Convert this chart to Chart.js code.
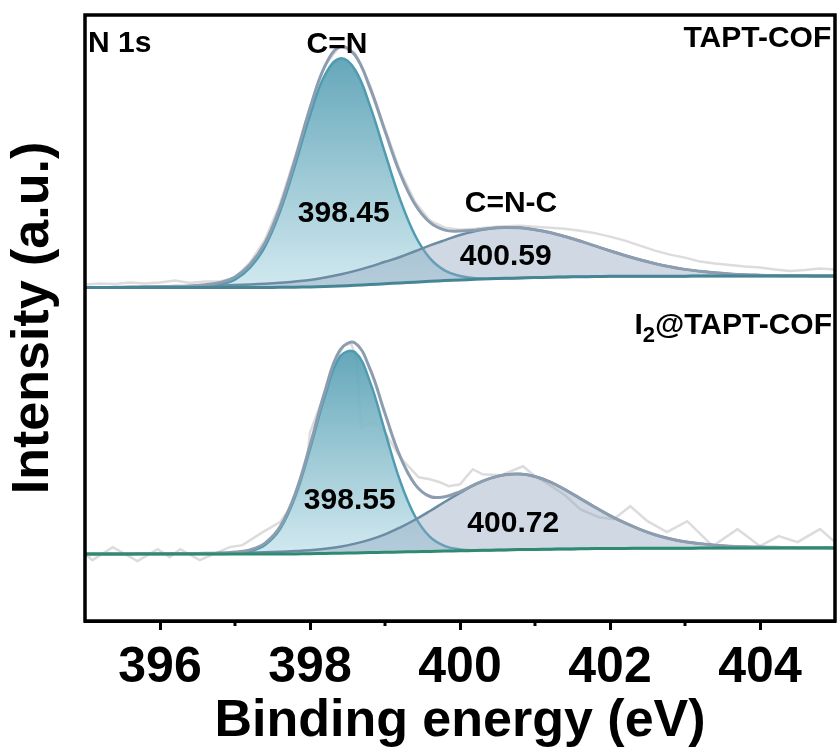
<!DOCTYPE html>
<html>
<head>
<meta charset="utf-8">
<script src="https://cdn.jsdelivr.net/npm/chart.js@4.4.1/dist/chart.umd.min.js"></script>
<style>
  html, body { margin: 0; padding: 0; background: #fff; }
  #wrap { width: 838px; height: 751px; }
</style>
</head>
<body>
<div id="wrap"><canvas id="xps"></canvas></div>
<script>
// binding energy grid (eV)
const energy = [395, 395.2, 395.4, 395.6, 395.8, 396, 396.2, 396.4, 396.6, 396.8,
  397, 397.2, 397.4, 397.6, 397.8, 398, 398.2, 398.4, 398.6, 398.8,
  399, 399.2, 399.4, 399.6, 399.8, 400, 400.2, 400.4, 400.6, 400.8,
  401, 401.2, 401.4, 401.6, 401.8, 402, 402.2, 402.4, 402.6, 402.8,
  403, 403.2, 403.4, 403.6, 403.8, 404, 404.2, 404.4, 404.6, 404.8, 405];

// TAPT-COF (upper spectrum)
const rawTop = [333, 334, 333.5, 335, 334, 335, 337, 334.5, 336, 336,
  340, 355, 378, 414, 461, 511, 553, 572, 565, 533,
  489, 447, 416, 397, 390, 388, 389, 390.5, 391.5, 392,
  391, 390, 389, 387, 384.5, 381, 377, 372, 367, 363,
  360, 356, 354, 352.5, 351, 350, 348, 346.5, 347.5, 349, 348];
const envTop = [330, 330, 330.3, 330.5, 330.8, 331, 331.2, 331.5, 332.8, 335,
  340.5, 353, 374.7, 410.7, 458.1, 509.6, 552, 571, 562.7, 530,
  486.8, 444.6, 413.4, 395.2, 387.5, 386.6, 387.4, 389.2, 390.2, 389.8,
  388, 385.1, 381.1, 376.6, 371.7, 366.8, 362.1, 357.8, 354, 350.8,
  348.2, 346.3, 344.8, 343.7, 342.9, 342.4, 342, 341.8, 341.7, 341.6, 341.5];
const cnTop = [330, 330, 330, 330, 330, 330, 330, 330, 331, 333,
  338, 350, 371, 406.2, 452.4, 502.6, 543, 559.5, 548.2, 512,
  464.8, 418.6, 382.4, 359.2, 347, 341.6, 339.2, 338.8, 339.2, 339.6,
  340, 340.3, 340.6, 340.8, 341, 341.2, 341.3, 341.4, 341.4, 341.4,
  341.4, 341.5, 341.5, 341.5, 341.5, 341.5, 341.5, 341.5, 341.5, 341.5, 341.5];
const cncTop = [330, 330, 330.3, 330.5, 330.8, 331, 331.2, 331.5, 331.8, 332,
  332.5, 333, 333.7, 334.7, 336.1, 337.6, 340, 343, 346.7, 351,
  355.8, 360.6, 366.4, 372.2, 377.5, 382.6, 386.4, 389.2, 390.2, 389.8,
  388, 385.1, 381.1, 376.6, 371.7, 366.8, 362.1, 357.8, 354, 350.8,
  348.2, 346.3, 344.8, 343.7, 342.9, 342.4, 342, 341.8, 341.7, 341.6, 341.5];
const bgTop = [330, 330, 330, 330, 330, 330, 330, 330, 330, 330,
  330, 330, 330, 330.2, 330.4, 330.6, 331, 331.5, 332.2, 333,
  333.8, 334.6, 335.4, 336.2, 337, 337.6, 338.2, 338.8, 339.2, 339.6,
  340, 340.3, 340.6, 340.8, 341, 341.2, 341.3, 341.4, 341.4, 341.4,
  341.4, 341.5, 341.5, 341.5, 341.5, 341.5, 341.5, 341.5, 341.5, 341.5, 341.5];

// I2@TAPT-COF (lower spectrum)
const rawLowX = [395, 395.1, 395.37, 395.7, 395.97, 396.13, 396.27, 396.53, 396.93, 397.1,
  397.37, 397.6, 397.82, 397.95, 398, 398.15, 398.3, 398.45, 398.55, 398.62,
  398.68, 398.85, 399, 399.2, 399.45, 399.6, 399.73, 399.85, 400, 400.17,
  400.3, 400.55, 400.84, 401, 401.2, 401.4, 401.6, 401.85, 402.05, 402.27,
  402.5, 402.76, 403.03, 403.37, 403.7, 404, 404.25, 404.5, 404.8, 405];
const rawLowY = [63, 57, 70, 56, 68, 60, 68, 57, 70, 72,
  85, 95, 118, 150, 185, 215, 250, 272, 274, 258,
  190, 195, 185, 160, 140, 138, 135, 131, 133, 148,
  143, 142, 151, 141, 132, 122, 108, 100, 98, 111,
  96, 85, 96, 71, 88, 71, 81, 75, 88, 75];
const envLow = [63, 63.1, 63.1, 63.2, 63.3, 63.3, 63.5, 63.6, 63.8, 64.1,
  65, 67.3, 74, 90.3, 123, 171.9, 226.3, 267.4, 274.5, 248.5,
  203.8, 161.1, 132.9, 120.7, 120.5, 125.7, 132.9, 138.9, 142.6, 143.2,
  140.7, 135.4, 127.6, 118.8, 110, 101.6, 94.2, 87.8, 82.4, 78.4,
  75.4, 73.5, 72, 71, 70.4, 70, 69.8, 69.6, 69.4, 69.3, 69.2];
const cnLow = [63, 63, 63, 63, 63, 63, 63, 63, 63, 63.1,
  63.7, 65.8, 72.2, 88.1, 120.2, 168.4, 221.6, 260.9, 265.2, 235.5,
  185.8, 136.6, 100.9, 80.2, 71, 67.7, 66.9, 66.9, 67.2, 67.5,
  67.7, 67.9, 68.1, 68.3, 68.5, 68.6, 68.7, 68.8, 68.9, 68.9,
  68.9, 69, 69, 69, 69, 69, 69, 69, 69, 69, 69];
const cncLow = [63, 63.1, 63.1, 63.2, 63.3, 63.3, 63.5, 63.6, 63.8, 64,
  64.3, 64.5, 64.8, 65.3, 66, 66.9, 68.3, 70.4, 73.5, 77.5,
  82.8, 89.6, 97.4, 106.2, 115.5, 124.3, 132.6, 138.9, 142.6, 143.2,
  140.7, 135.4, 127.6, 118.8, 110, 101.6, 94.2, 87.8, 82.4, 78.4,
  75.4, 73.5, 72, 71, 70.4, 70, 69.8, 69.6, 69.4, 69.3, 69.2];
const bgLow = [63, 63, 63, 63, 63, 63, 63, 63, 63, 63,
  63, 63, 63, 63.1, 63.2, 63.4, 63.6, 63.9, 64.2, 64.5,
  64.8, 65.1, 65.4, 65.7, 66, 66.3, 66.6, 66.9, 67.2, 67.5,
  67.7, 67.9, 68.1, 68.3, 68.5, 68.6, 68.7, 68.8, 68.9, 68.9,
  68.9, 69, 69, 69, 69, 69, 69, 69, 69, 69, 69];

const xTicks = [396, 398, 400, 402, 404];
const minorTicks = [397, 399, 401, 403];

// text labels, placed in data units (eV, intensity at text baseline)
const notes = [
  { text: 'N 1s', x: 395.04, y: 566, align: 'left' },
  { text: 'C=N', x: 398.36, y: 565, align: 'center' },
  { text: 'TAPT-COF', x: 404.95, y: 571, align: 'right' },
  { text: '398.45', x: 398.45, y: 396, align: 'center' },
  { text: 'C=N-C', x: 400.68, y: 406, align: 'center' },
  { text: '400.59', x: 400.61, y: 353, align: 'center' },
  { text: '398.55', x: 398.53, y: 108, align: 'center' },
  { text: '400.72', x: 400.71, y: 85, align: 'center' }
];
const lowName = { main: 'I', sub: '2', rest: '@TAPT-COF', x: 404.96, y: 283 };

const FONT = '"Liberation Sans", Arial, sans-serif';

function pts(xs, ys) {
  return xs.map((x, i) => ({ x: x, y: ys[i] }));
}

// teal gradient for the C=N peaks
function cnFill(c) {
  const chart = c.chart;
  if (!chart.chartArea || !c.dataset) return 'rgba(94,166,183,0.8)';
  const ys = c.dataset.data.map(p => p.y);
  const top = chart.scales.y.getPixelForValue(Math.max(...ys));
  const bottom = chart.scales.y.getPixelForValue(Math.min(...ys));
  const g = chart.ctx.createLinearGradient(0, top, 0, bottom);
  g.addColorStop(0, 'rgba(88,160,180,0.92)');
  g.addColorStop(1, 'rgba(206,231,238,0.92)');
  return g;
}

function line(label, data, color, width, order, extra) {
  return Object.assign({
    label: label,
    data: data,
    borderColor: color,
    borderWidth: width,
    pointRadius: 0,
    tension: 0.4,
    fill: false,
    order: order
  }, extra || {});
}

const decor = {
  id: 'decor',
  afterDraw(chart) {
    const { ctx, chartArea: a, scales: { x, y } } = chart;
    ctx.save();
    ctx.strokeStyle = '#000';
    ctx.lineWidth = 3;
    minorTicks.forEach(v => {
      const px = x.getPixelForValue(v);
      ctx.beginPath();
      ctx.moveTo(px, a.bottom);
      ctx.lineTo(px, a.bottom + 5);
      ctx.stroke();
    });
    ctx.lineWidth = 3.5;
    ctx.strokeRect(a.left, a.top, a.right - a.left, a.bottom - a.top);

    ctx.fillStyle = '#000';
    ctx.textBaseline = 'alphabetic';
    ctx.font = 'bold 30px ' + FONT;
    notes.forEach(n => {
      ctx.textAlign = n.align;
      ctx.fillText(n.text, x.getPixelForValue(n.x), y.getPixelForValue(n.y));
    });

    // I2@TAPT-COF with subscript
    ctx.textAlign = 'left';
    const big = 'bold 30px ' + FONT;
    const small = 'bold 22px ' + FONT;
    ctx.font = big;
    const w1 = ctx.measureText(lowName.main).width;
    const w3 = ctx.measureText(lowName.rest).width;
    ctx.font = small;
    const w2 = ctx.measureText(lowName.sub).width;
    const right = x.getPixelForValue(lowName.x);
    const base = y.getPixelForValue(lowName.y);
    let left = right - (w1 + w2 + w3);
    ctx.font = big;
    ctx.fillText(lowName.main, left, base);
    ctx.font = small;
    ctx.fillText(lowName.sub, left + w1, base + 8);
    ctx.font = big;
    ctx.fillText(lowName.rest, left + w1 + w2, base);
    ctx.restore();
  }
};

new Chart(document.getElementById('xps'), {
  type: 'line',
  data: {
    datasets: [
      line('background top', pts(energy, bgTop), '#468594', 3, 1),
      line('background low', pts(energy, bgLow), '#2f8a70', 3, 1),
      line('envelope top', pts(energy, envTop), '#8d9db0', 3, 2),
      line('envelope low', pts(energy, envLow), '#8d9db0', 3, 2),
      line('raw top', pts(energy, rawTop), '#dcdcdc', 2.5, 6, { tension: 0 }),
      line('raw low', pts(rawLowX, rawLowY), '#dcdcdc', 2.5, 6, { tension: 0 }),
      line('C=N-C top', pts(energy, cncTop), '#6b8ca3', 2.5, 4,
        { fill: 0, backgroundColor: 'rgba(140,162,188,0.42)' }),
      line('C=N-C low', pts(energy, cncLow), '#6b8ca3', 2.5, 4,
        { fill: 1, backgroundColor: 'rgba(140,162,188,0.42)' }),
      line('C=N top', pts(energy, cnTop), '#4f9cb1', 2.5, 5,
        { fill: 0, backgroundColor: cnFill }),
      line('C=N low', pts(energy, cnLow), '#4f9cb1', 2.5, 5,
        { fill: 1, backgroundColor: cnFill })
    ]
  },
  options: {
    responsive: true,
    maintainAspectRatio: false,
    animation: false,
    layout: { padding: { top: 15, right: 3, left: 0, bottom: 0 } },
    plugins: {
      legend: { display: false },
      tooltip: { enabled: false }
    },
    scales: {
      x: {
        type: 'linear',
        min: 395,
        max: 405,
        afterBuildTicks: axis => {
          axis.ticks = xTicks.map(v => ({ value: v }));
        },
        ticks: {
          autoSkip: false,
          maxRotation: 0,
          padding: 13,
          color: '#000',
          font: { family: FONT, size: 50, weight: 'bold', lineHeight: 1 },
          callback: v => String(v)
        },
        grid: { display: true, drawOnChartArea: false, tickLength: 9, tickWidth: 3, tickColor: '#000' },
        border: { display: true, color: '#000', width: 3 },
        title: {
          display: true,
          text: 'Binding energy (eV)',
          color: '#000',
          font: { family: FONT, size: 52, weight: 'bold', lineHeight: 1 },
          padding: { top: -10, bottom: 3 }
        }
      },
      y: {
        type: 'linear',
        min: -4,
        max: 603,
        ticks: { display: false },
        grid: { display: false, drawTicks: false },
        border: { display: false },
        title: {
          display: true,
          text: 'Intensity (a.u.)',
          color: '#000',
          font: { family: FONT, size: 52, weight: 'bold', lineHeight: 1 },
          padding: { top: 8, bottom: 25 }
        }
      }
    }
  },
  plugins: [decor]
});
</script>
</body>
</html>
